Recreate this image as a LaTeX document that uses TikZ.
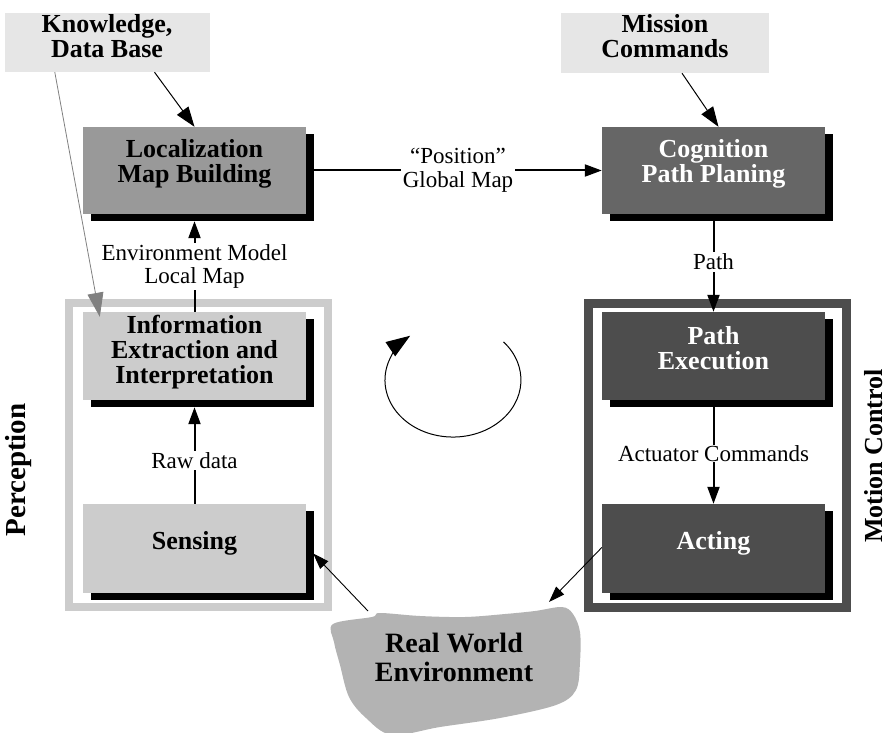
\documentclass[tikz,border=0pt]{standalone}
\usepackage{fontspec}
\setmainfont{Liberation Serif}
\usetikzlibrary{arrows.meta,shadows}
\definecolor{kgray}{HTML}{E6E6E6}
\definecolor{locgray}{HTML}{999999}
\definecolor{coggray}{HTML}{666666}
\definecolor{pgray}{HTML}{CCCCCC}
\definecolor{mgray}{HTML}{4D4D4D}
\definecolor{bgray}{HTML}{B3B3B3}
\definecolor{lgray}{HTML}{808080}
\begin{document}
\begin{tikzpicture}[x=1pt,y=1pt,
  topbox/.style={fill=kgray,draw=none,inner sep=0pt},
  box/.style={draw=none,minimum width=223pt,minimum height=88pt,inner sep=0pt,
    drop shadow={shadow xshift=8pt,shadow yshift=-7pt,fill=black,opacity=1}},
  boxtext/.style={font=\fontsize{26}{25}\selectfont\bfseries,align=center,inner sep=0pt},
  lbl/.style={font=\fontsize{23}{23.5}\selectfont,align=center,fill=white,inner sep=1.5pt},
  sidelbl/.style={rotate=90,inner sep=0pt},
  mainarrow/.style={line width=2pt,-{Triangle[length=17pt,width=12pt]}},
  thinarrow/.style={line width=1pt,-{Triangle[length=20pt,width=14pt]}},
  envarrow/.style={line width=0.9pt,-{Triangle[length=16pt,width=11pt]}},
]
\useasboundingbox (0,0) rectangle (889,-733);

% top boxes
\node[topbox,minimum width=205pt,minimum height=59pt] (know) at (107.5,-42.5) {};
\node[boxtext] (knowt) at (107,-36) {Knowledge,\\Data Base};
\node[topbox,minimum width=208pt,minimum height=60pt] (mis) at (665,-43) {};
\node[boxtext] (mist) at (665,-36) {Mission\\Commands};

% frames
\draw[line width=8pt,pgray] (69,-303) rectangle (328,-607);
\draw[line width=9pt,mgray] (588,-303) rectangle (846.5,-607);

% main boxes
\node[box,fill=locgray,minimum height=87pt] (loc) at (194.5,-170.5) {};
\node[boxtext] (loct) at (194.5,-164) {Localization\\Map Building};
\node[box,fill=coggray,minimum height=87pt] (cog) at (713.5,-170.5) {};
\node[boxtext,white] (cogt) at (713.5,-164) {Cognition\\Path Planing};
\node[box,fill=pgray] (info) at (194.5,-356) {};
\node[boxtext] (infot) at (194.5,-352) {Information\\Extraction and\\Interpretation};
\node[box,fill=pgray,minimum height=89pt] (sens) at (194.5,-548.5) {};
\node[boxtext] (senst) at (194.5,-543) {Sensing};
\node[box,fill=mgray] (pexe) at (713.5,-356) {};
\node[boxtext,white] (pexet) at (713.5,-348) {Path\\Execution};
\node[box,fill=mgray,minimum height=89pt] (act) at (713.5,-548.5) {};
\node[boxtext,white] (actt) at (713.5,-543) {Acting};

% real world blob
\fill[bgray] plot[smooth cycle,tension=0.55] coordinates {
  (333,-624) (372,-617) (380,-613) (420,-616) (465,-617) (505,-614)
  (535,-611) (562,-607) (573,-614) (580,-632) (580,-662) (576,-690)
  (556,-705) (500,-718) (440,-727) (392,-735) (366,-718) (349,-697)
  (340,-665) (334,-642)};
\node[font=\fontsize{28}{29}\selectfont\bfseries,align=center,inner sep=0pt] (rw) at (454,-657) {Real World\\Environment};
\coordinate (rwA) at (368,-611);
\coordinate (rwB) at (549,-602);

% side labels
\node[sidelbl,font=\fontsize{29}{29}\selectfont\bfseries] (perc) at (19,-470) {Perception};
\node[sidelbl,font=\fontsize{26}{27}\selectfont\bfseries] (motc) at (874,-456) {Motion Control};

% connectors
\draw[thinarrow] ([xshift=47pt]know.south) -- (loc.north);
\draw[thinarrow] ([xshift=17pt]mis.south) -- ([xshift=5pt]cog.north);
\draw[line width=0.8pt,lgray,-{Triangle[length=24pt,width=16pt]}] ([xshift=50pt]know.south west) -- ([xshift=17pt,yshift=-5pt]info.north west);

\draw[mainarrow] ([xshift=8pt]loc.east) -- node[lbl] (gm) {``Position''\\Global Map} (cog.west);
\draw[mainarrow] (info.north) -- node[lbl] (em) {Environment Model\\Local Map} ([yshift=-7pt]loc.south);
\draw[mainarrow] (sens.north) -- node[lbl,pos=0.45] (rd) {Raw data} ([yshift=-7pt]info.south);
\draw[mainarrow] ([yshift=-7pt]cog.south) -- node[lbl,pos=0.45] (pl) {Path} (pexe.north);
\draw[mainarrow] ([yshift=-7pt]pexe.south) -- node[lbl,pos=0.48,inner ysep=0pt] (ac) {Actuator Commands} (act.north);

\draw[envarrow] (rwA) -- ([xshift=7pt,yshift=-5pt]sens.east);
\draw[envarrow] ([yshift=1pt]act.west) -- (rwB);

% cycle arrow
\coordinate (cs) at (503.5,-341.9);
\draw[line width=1pt,-{Triangle[length=24pt,width=17pt]}] (cs) arc[start angle=42,end angle=-231,x radius=68pt,y radius=57pt];
\end{tikzpicture}
\end{document}
